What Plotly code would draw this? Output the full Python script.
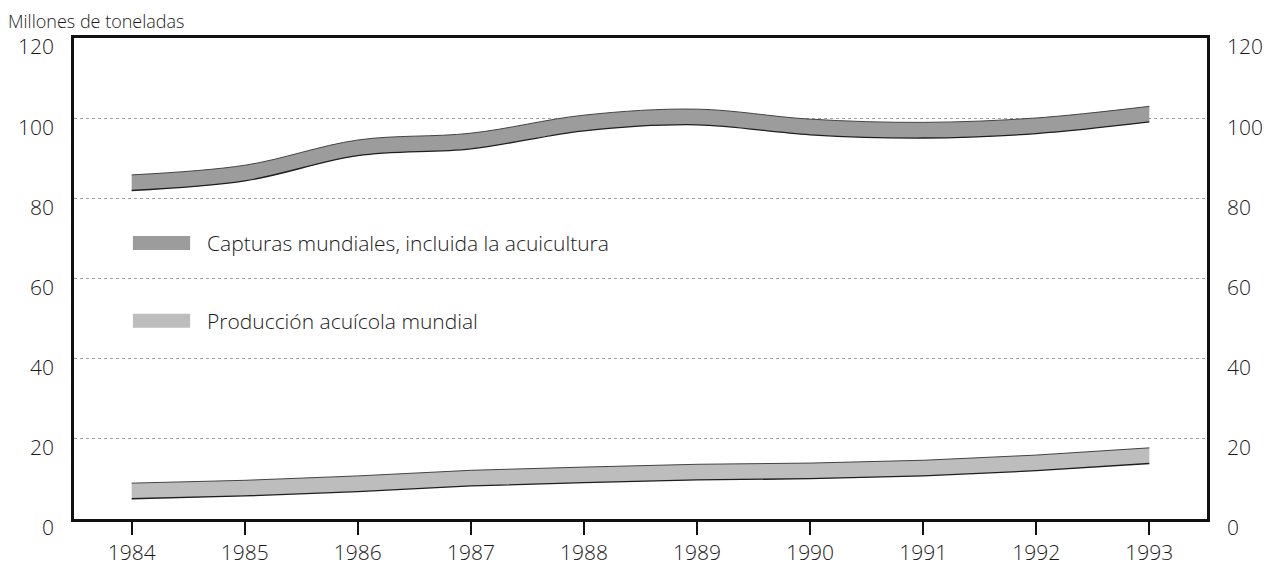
import plotly.graph_objects as go

# ---- data (millions of tonnes) ----
years = [1984, 1985, 1986, 1987, 1988, 1989, 1990, 1991, 1992, 1993]
capturas = [83.9, 86.3, 92.6, 94.3, 98.8, 100.3, 97.8, 97.0, 98.1, 101.0]
acuicultura = [7.0, 7.7, 8.8, 10.2, 11.0, 11.7, 12.0, 12.7, 14.0, 15.8]
series_names = ["Capturas mundiales, incluida la acuicultura", "Producción acuícola mundial"]
ytick_vals = [0, 20, 40, 60, 80, 100, 120]
y_title = "Millones de toneladas"

# ---- style ----
FONT = "Open Sans"
HALF = 1.95  # half thickness of band (in data units)
COL_CAP = "#9c9c9c"
COL_ACU = "#bdbdbd"
TXT = "#1a1a1a"

fig = go.Figure()

def add_band(vals, color, shape, name):
    lo = [v - HALF for v in vals]
    hi = [v + HALF for v in vals]
    fig.add_trace(go.Scatter(x=years, y=lo, mode="lines", name=name,
                             line=dict(color="#1e1e1e", width=1.3, shape=shape),
                             showlegend=False, hoverinfo="skip"))
    fig.add_trace(go.Scatter(x=years, y=hi, mode="lines", name=name, fill="tonexty",
                             fillcolor=color,
                             line=dict(color="#444444", width=1, shape=shape),
                             showlegend=False, customdata=vals,
                             hovertemplate="%{x}: %{customdata}<extra>" + name + "</extra>"))

add_band(capturas, COL_CAP, "spline", series_names[0])
add_band(acuicultura, COL_ACU, "linear", series_names[1])

# invisible trace on right axis so it renders
fig.add_trace(go.Scatter(x=[years[0]], y=[0], yaxis="y2", mode="markers",
                         marker=dict(opacity=0), showlegend=False, hoverinfo="skip"))

# custom legend
legend_rows = [(0.574, COL_CAP, series_names[0]), (0.412, COL_ACU, series_names[1])]
for yc, col, txt in legend_rows:
    fig.add_shape(type="rect", xref="paper", yref="paper",
                  x0=0.052, x1=0.1025, y0=yc - 0.0145, y1=yc + 0.0145,
                  fillcolor=col, line=dict(width=0))
    fig.add_annotation(x=0.1156, y=yc, xref="paper", yref="paper", text=txt,
                       showarrow=False, xanchor="left", yanchor="middle",
                       font=dict(family=FONT, size=21, color=TXT, weight=300))

fig.add_annotation(x=0, y=1, xref="paper", yref="paper", text=y_title,
                   showarrow=False, xanchor="left", yanchor="top",
                   xshift=-67, yshift=30, borderpad=0,
                   font=dict(family=FONT, size=18, color=TXT, weight=300))

yax_common = dict(range=[0, 120], tickvals=ytick_vals, ticks="",
                  zeroline=False, tickfont=dict(family=FONT, size=21, color=TXT, weight=300),
                  ticklabelshift=9, fixedrange=True, showline=True,
                  linecolor="#111", linewidth=2.5, automargin=False)

fig.update_layout(
    template="none",
    width=1266, height=559,
    margin=dict(l=66, r=67, t=30, b=48, autoexpand=False),
    paper_bgcolor="white", plot_bgcolor="white",
    showlegend=False,
    xaxis=dict(range=[1983.49, 1993.51], tickvals=years, ticks="outside",
               ticklen=13, tickwidth=1.5, tickcolor="#111", showgrid=False,
               zeroline=False, showline=True, linecolor="#111", linewidth=2.5,
               mirror=True, fixedrange=True, automargin=False,
               tickfont=dict(family=FONT, size=21, color=TXT, weight=300)),
    yaxis=dict(**yax_common, showgrid=True, gridcolor="#a0a0a0", griddash="dot",
               gridwidth=1, ticklabelstandoff=13),
    yaxis2=dict(**yax_common, showgrid=False, overlaying="y", side="right",
                ticklabelstandoff=13),
)

fig.write_html("out.html")
